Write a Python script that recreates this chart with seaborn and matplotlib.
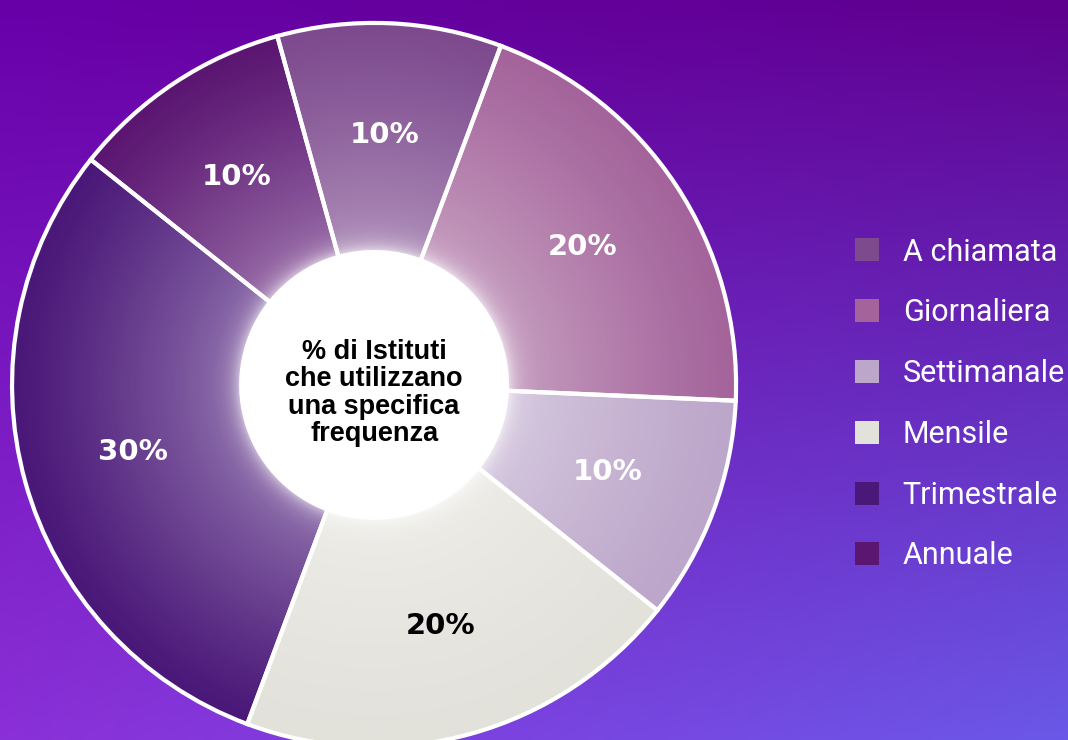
import matplotlib
matplotlib.use('Agg')
import matplotlib.pyplot as plt
import numpy as np
import seaborn as sns
from matplotlib.colors import to_rgb
from matplotlib.patches import Patch, Circle

# data
categories = ['A chiamata', 'Giornaliera', 'Settimanale', 'Mensile', 'Trimestrale', 'Annuale']
shares = [10, 20, 10, 20, 30, 10]
slice_colors = ['#7d4a8e', '#a4649b', '#bca6ca', '#e2e1da', '#4a1878', '#5b1672']
label_colors = ['white', 'white', 'white', 'black', 'white', 'white']
center_text = '% di Istituti\nche utilizzano\nuna specifica\nfrequenza'

sns.set_theme(style='white')
plt.rcParams['font.family'] = ['DejaVu Sans']

fig = plt.figure(figsize=(10.68, 7.40), dpi=100)

# background gradient (corners: top-left, top-right, bottom-left, bottom-right)
tl, tr, bl, br = [np.array(to_rgb(c)) for c in ('#6800a8', '#5f008e', '#8a30d8', '#6a58e8')]
yy, xx = np.mgrid[0:1:200j, 0:1:300j]
yy, xx = yy[..., None], xx[..., None]
bg_img = tl * (1 - xx) * (1 - yy) + tr * xx * (1 - yy) + bl * (1 - xx) * yy + br * xx * yy
bg = fig.add_axes([0, 0, 1, 1], zorder=0)
bg.imshow(bg_img, aspect='auto', extent=[0, 1, 0, 1])
bg.axis('off')

# donut
hole = 0.367
ax = fig.add_axes([0.0045, -0.0192, 0.6915, 0.998], zorder=1)
ax.set_facecolor('none')
wedges, texts, autotexts = ax.pie(
    shares, colors=slice_colors, startangle=105.5, counterclock=False,
    wedgeprops=dict(width=1 - hole, edgecolor='none'),
    autopct='%d%%', pctdistance=0.69,
    textprops=dict(fontsize=21, fontweight='heavy', family='DejaVu Sans'))
for t, c in zip(autotexts, label_colors):
    t.set_color(c)
    t.set_zorder(6)

# radial light shading inside each slice
n = 600
g = np.linspace(-1, 1, n)
X, Y = np.meshgrid(g, g)
r = np.hypot(X, Y)
alpha = 0.38 * np.clip((1 - r) / (1 - hole), 0, 1) ** 1.2
alpha += 0.45 * np.exp(-np.clip(r - hole, 0, None) / 0.025) * (r >= hole)
shade = np.ones((n, n, 4))
shade[..., 3] = np.clip(alpha, 0, 1)
for w in wedges:
    im = ax.imshow(shade, extent=[-1, 1, -1, 1], origin='lower', zorder=2,
                   interpolation='bilinear')
    im.set_clip_path(w)

# white borders
ax.pie(shares, colors=['none'] * len(shares), startangle=105.5, counterclock=False,
       wedgeprops=dict(width=1 - hole, edgecolor='white', linewidth=3, zorder=3))
ax.add_patch(Circle((0, 0), hole, facecolor='white', edgecolor='none', zorder=4))
ax.text(0, -0.022, center_text, ha='center', va='center', fontsize=19.5, fontweight='bold',
        family='Liberation Sans', linespacing=1.07, color='black', zorder=6)

ax.set_xlim(-1.02, 1.02)
ax.set_ylim(-1.02, 1.02)
ax.set_aspect('equal')
ax.axis('off')

# legend
handles = [Patch(facecolor=c, edgecolor='none') for c in slice_colors]
fig.legend(handles, categories, loc='upper left', bbox_to_anchor=(0.8006, 0.679),
           frameon=False, labelcolor='white', prop=dict(family='Roboto', size=22),
           handlelength=0.78, handleheight=0.78, handletextpad=0.78, labelspacing=1.04,
           borderpad=0, borderaxespad=0)

fig.savefig('out.png', dpi=100)
